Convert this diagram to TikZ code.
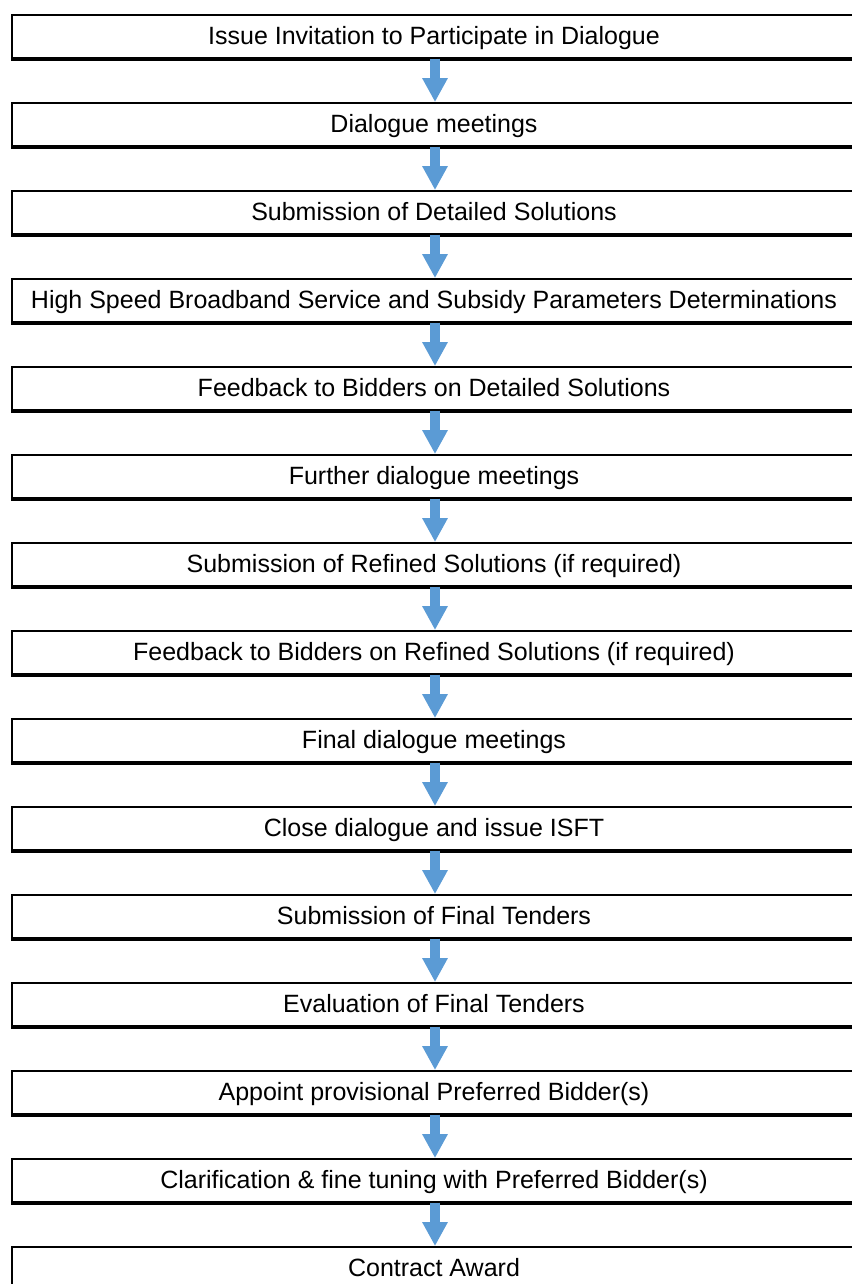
\documentclass[tikz,border=0pt]{standalone}
\usepackage{fontspec}
\setmainfont{Liberation Sans}
\usepackage{tikz}
\usetikzlibrary{arrows.meta, shadows}

\definecolor{flowblue}{RGB}{91,155,213}

\begin{document}
\begin{tikzpicture}[x=1pt, y=-1pt,
    stepbox/.style={draw, line width=2pt, fill=white,
        minimum width=844pt, minimum height=42.5pt, inner sep=0pt,
        text height=20pt, text depth=3pt,
        font=\fontsize{25}{30}\selectfont,
        drop shadow={shadow xshift=-1.5pt, shadow yshift=-3pt,
            fill=black, opacity=1}},
    blockarrow/.style={flowblue, line width=10pt,
        -{Triangle[width=24pt, length=24pt]}}]

    % Marco
    \useasboundingbox (0,0) rectangle (851,1284);

    % Pasos del procedimiento
    \foreach \i/\txt in {
        1/{Issue Invitation to Participate in Dialogue},
        2/{Dialogue meetings},
        3/{Submission of Detailed Solutions},
        4/{High Speed Broadband Service and Subsidy Parameters Determinations},
        5/{Feedback to Bidders on Detailed Solutions},
        6/{Further dialogue meetings},
        7/{Submission of Refined Solutions (if required)},
        8/{Feedback to Bidders on Refined Solutions (if required)},
        9/{Final dialogue meetings},
        10/{Close dialogue and issue ISFT},
        11/{Submission of Final Tenders},
        12/{Evaluation of Final Tenders},
        13/{Appoint provisional Preferred Bidder(s)},
        14/{Clarification \& fine tuning with Preferred Bidder(s)},
        15/{Contract Award}}{
        \node[stepbox] (b\i) at (434, {36.3 + 88*(\i-1)}) {\txt};
    }

    % Flechas entre pasos
    \foreach \i [evaluate=\i as \j using int(\i+1)] in {1,...,14}{
        \draw[blockarrow] (b\i.south -| 435,0) -- (b\j.north -| 435,0);
    }

\end{tikzpicture}
\end{document}
